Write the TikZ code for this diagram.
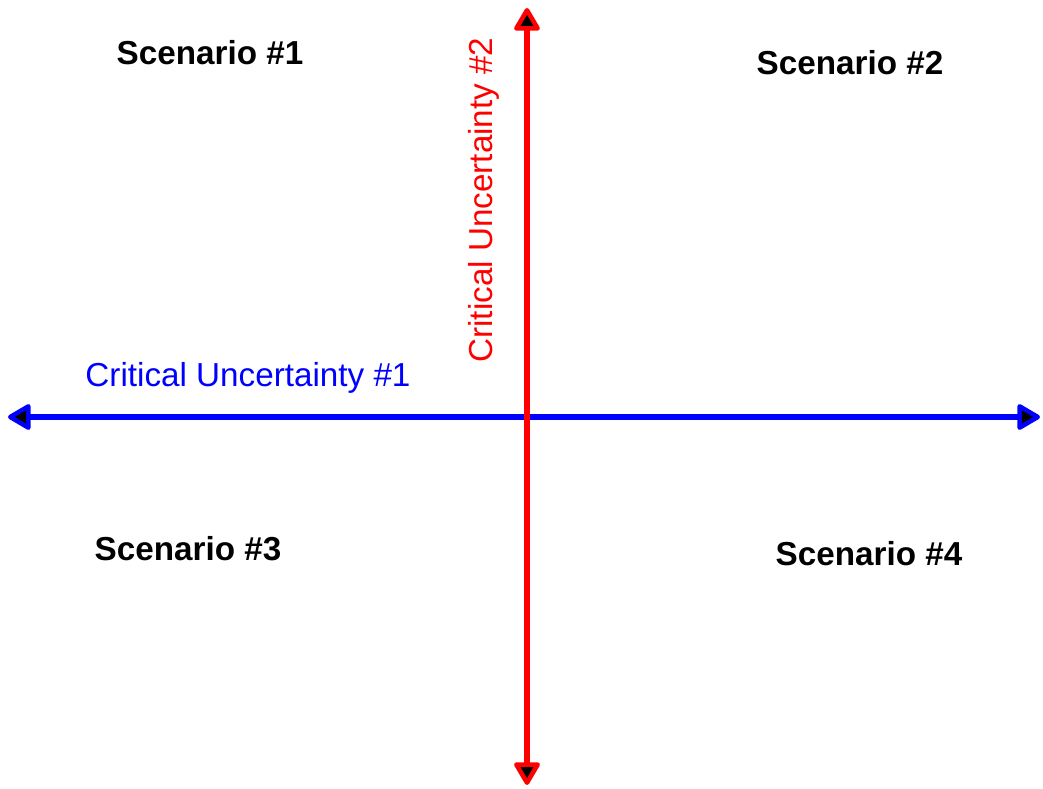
\documentclass[tikz,border=0pt]{standalone}
\usepackage{fontspec}
\setmainfont{Liberation Sans}
\usetikzlibrary{arrows.meta}

\begin{document}
\begin{tikzpicture}[x=0.01cm,y=-0.01cm,
  >={Triangle[length=0.25cm,width=0.28cm,fill=black,line width'=0.045cm,round]},
  axis/.style={<->,line width=0.06cm},
  scenario/.style={font=\fontsize{9.45}{11}\selectfont\bfseries,inner sep=0pt},
  uncert/.style={font=\fontsize{9.45}{11}\selectfont,inner sep=0pt,anchor=base}]

\useasboundingbox (0,0) rectangle (1043,789);

% axis ends
\coordinate (west) at (8,417);
\coordinate (east) at (1040,417);
\coordinate (north) at (527,8);
\coordinate (south) at (527,785);

\draw[axis,color=blue] (west)--(east);
\draw[axis,color=red] (south)--(north);

\node[uncert,text=blue] (cu1) at (248,387) {Critical Uncertainty \#1};
\node[uncert,text=red,rotate=90] (cu2) at (492,200) {Critical Uncertainty \#2};

\node[scenario] (s1) at (210,53) {Scenario \#1};
\node[scenario] (s2) at (850,63) {Scenario \#2};
\node[scenario] (s3) at (188,549) {Scenario \#3};
\node[scenario] (s4) at (869,554) {Scenario \#4};

\end{tikzpicture}
\end{document}
